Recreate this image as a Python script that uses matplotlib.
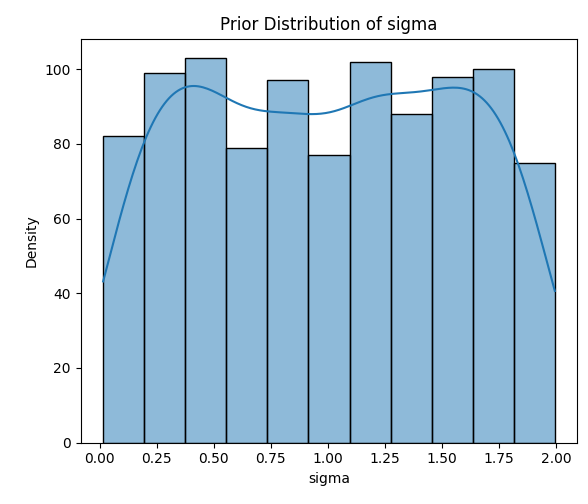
import matplotlib.pyplot as plt
import numpy as np
import pandas as pd
import seaborn as sns

# Histogram of prior samples for sigma (11 bins)
sigma_min, sigma_max = 0.015, 1.995
bin_counts = [82, 99, 103, 79, 97, 77, 102, 88, 98, 100, 75]

n_bins = len(bin_counts)
bin_edges = np.linspace(sigma_min, sigma_max, n_bins + 1)
df = pd.DataFrame({'sigma': (bin_edges[:-1] + bin_edges[1:]) / 2,
                   'count': bin_counts})

fig, ax = plt.subplots(figsize=(5.88, 5.04), dpi=100)
fig.subplots_adjust(left=0.137, right=0.982, bottom=0.122, top=0.923)

sns.histplot(data=df, x='sigma', weights='count', bins=n_bins,
             binrange=(sigma_min, sigma_max), kde=True,
             kde_kws={'bw_adjust': 0.45, 'cut': 3, 'clip': (sigma_min, sigma_max)},
             ax=ax)

ax.set_title('Prior Distribution of sigma')
ax.set_xlabel('sigma')
ax.set_ylabel('Density')

plt.savefig('out.png')
